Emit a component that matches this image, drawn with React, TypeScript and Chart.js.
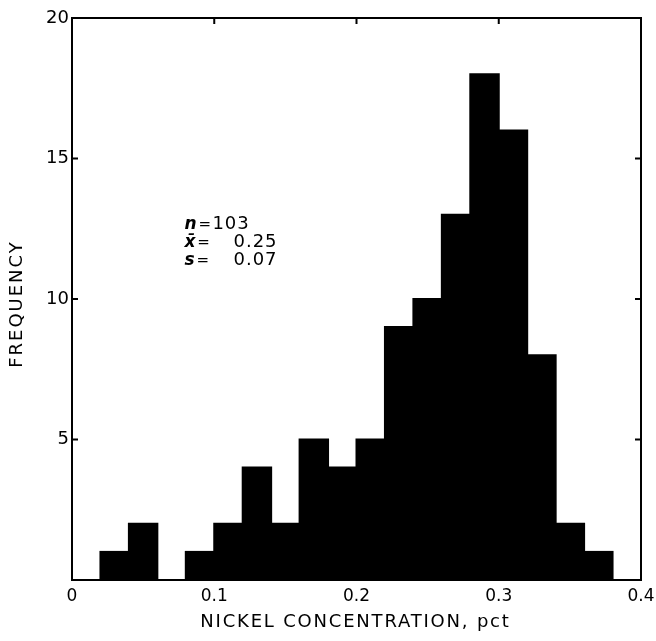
import React, { useEffect, useRef } from "react";
import { Chart, registerables } from "chart.js";

Chart.register(...registerables);

// Histogram bins (start of each 0.02-wide bin) and frequencies
const binStarts = [0.02, 0.04, 0.06, 0.08, 0.1, 0.12, 0.14, 0.16, 0.18, 0.2, 0.22, 0.24, 0.26, 0.28, 0.3, 0.32, 0.34, 0.36];
const frequencies = [1, 2, 0, 1, 2, 4, 2, 5, 4, 5, 9, 10, 13, 18, 16, 8, 2, 1];
const binWidth = 0.02;
const xTicks = [0, 0.1, 0.2, 0.3, 0.4];
const xTickLabels = ["0", "0.1", "0.2", "0.3", "0.4"];
const yTicks = [0, 5, 10, 15, 20];
const statLines = [
  { sym: "n", eq: "=", val: "103" },
  { sym: "x̄", eq: "=", val: "0.25" },
  { sym: "s", eq: "=", val: "0.07" },
];
const xTitle = "NICKEL CONCENTRATION, pct";
const yTitle = "FREQUENCY";

const FONT = "'DejaVu Sans', sans-serif";

const framePlugin = {
  id: "frame",
  afterDraw(chart: any) {
    const { ctx, chartArea } = chart;
    const { left, right, top, bottom } = chartArea;
    const xs = chart.scales.x;
    const ys = chart.scales.y;
    ctx.save();
    ctx.strokeStyle = "#000";
    ctx.lineWidth = 2;
    ctx.strokeRect(left, top, right - left, bottom - top);
    const tl = 6;
    ctx.beginPath();
    yTicks.slice(1, -1).forEach((v) => {
      const py = ys.getPixelForValue(v);
      ctx.moveTo(left, py);
      ctx.lineTo(left + tl, py);
      ctx.moveTo(right, py);
      ctx.lineTo(right - tl, py);
    });
    xTicks.slice(1, -1).forEach((v) => {
      const px = xs.getPixelForValue(v);
      ctx.moveTo(px, top);
      ctx.lineTo(px, top + tl);
      ctx.moveTo(px, bottom);
      ctx.lineTo(px, bottom - tl);
    });
    ctx.stroke();

    ctx.fillStyle = "#000";
    ctx.textBaseline = "middle";

    // axis titles
    ctx.textAlign = "center";
    ctx.font = "18px " + FONT;
    (ctx as any).letterSpacing = "1.8px";
    ctx.fillText(xTitle, (left + right) / 2 - 1, 622);
    ctx.save();
    ctx.translate(17, (top + bottom) / 2 + 5);
    ctx.rotate(-Math.PI / 2);
    (ctx as any).letterSpacing = "2px";
    ctx.fillText(yTitle, 0, 0);
    ctx.restore();

    // statistics annotation
    (ctx as any).letterSpacing = "1px";
    const sx = xs.getPixelForValue(0.079);
    const valRight = xs.getPixelForValue(0.1445);
    statLines.forEach((ln, i) => {
      const py = ys.getPixelForValue(12.64 - i * 0.64);
      ctx.textAlign = "left";
      ctx.font = "italic bold 17px " + FONT;
      ctx.fillText(ln.sym, sx, py);
      const w = ctx.measureText(ln.sym).width;
      ctx.font = "15px " + FONT;
      ctx.fillText(ln.eq, sx + w + 1, py);
      ctx.font = "18px " + FONT;
      if (i === 0) {
        ctx.fillText(ln.val, sx + 28, py);
      } else {
        ctx.textAlign = "right";
        ctx.fillText(ln.val, valRight, py);
      }
    });
    ctx.restore();
  },
};

export default function App() {
  const ref = useRef<HTMLCanvasElement | null>(null);
  useEffect(() => {
    document.body.style.margin = "0";
    const canvas = ref.current;
    if (!canvas) return;
    const chart = new Chart(canvas, {
      type: "bar",
      data: {
        datasets: [
          {
            data: binStarts.map((s, i) => ({ x: s + binWidth / 2, y: frequencies[i] })),
            backgroundColor: "#000",
            borderColor: "#000",
            borderWidth: 0,
            inflateAmount: 1,
            barPercentage: 1.0,
            categoryPercentage: 1.0,
          },
        ],
      },
      options: {
        responsive: false,
        animation: false,
        layout: { padding: { top: 18, right: 15, left: 0, bottom: 0 } },
        plugins: { legend: { display: false }, tooltip: { enabled: false } },
        scales: {
          x: {
            type: "linear",
            offset: false,
            min: 0,
            max: 0.4,
            afterBuildTicks: (scale: any) => {
              scale.ticks = xTicks.map((v) => ({ value: v }));
            },
            afterFit: (scale: any) => {
              scale.height = 61;
              scale.paddingLeft = 0;
              scale.paddingRight = 0;
            },
            grid: { display: false, offset: false, drawTicks: false },
            border: { display: false },
            ticks: {
              color: "#000",
              font: { family: FONT, size: 17 },
              padding: 6,
              maxRotation: 0,
              autoSkip: false,
              callback: (v: any) => {
                const idx = xTicks.indexOf(Number(v));
                return idx >= 0 ? xTickLabels[idx] : "";
              },
            },
            title: { display: false },
          },
          y: {
            min: 0,
            max: 20,
            afterBuildTicks: (scale: any) => {
              scale.ticks = yTicks.map((v) => ({ value: v }));
            },
            afterFit: (scale: any) => {
              scale.width = 72;
              scale.paddingTop = 0;
              scale.paddingBottom = 0;
            },
            grid: { display: false, drawTicks: false },
            border: { display: false },
            ticks: {
              color: "#000",
              font: { family: FONT, size: 18 },
              padding: 3,
              callback: (v: any) => (Number(v) === 0 ? "" : String(v)),
            },
            title: { display: false },
          },
        },
      },
      plugins: [framePlugin],
    } as any);
    return () => chart.destroy();
  }, []);
  return (
    <div style={{ position: "absolute", left: 0, top: 0, width: 656, height: 641, background: "#fff" }}>
      <canvas ref={ref} width={656} height={641} />
    </div>
  );
}
